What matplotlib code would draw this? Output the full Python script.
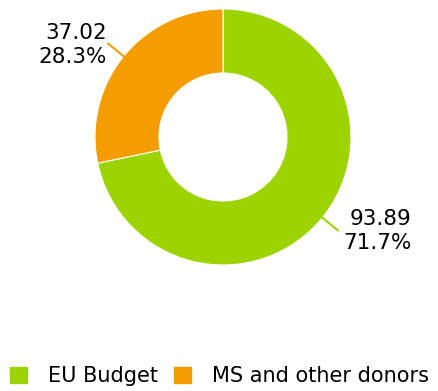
import matplotlib.pyplot as plt
import numpy as np
from matplotlib.patches import Patch

labels = ["EU Budget", "MS and other donors"]
values = [93.89, 37.02]
colors = ["#9dd300", "#f59c00"]

fig = plt.figure(figsize=(4.39, 3.91), dpi=100)
ax = fig.add_axes([0, 0, 1, 1])

cx, cy, r = 223, 254, 128
wedges, _ = ax.pie(values, colors=colors, startangle=90, counterclock=False,
                   center=(cx, cy), radius=r,
                   wedgeprops=dict(width=r * 0.5, edgecolor="white", linewidth=0.8))
ax.set_xlim(0, 439)
ax.set_ylim(0, 391)
ax.set_aspect("equal")
ax.axis("off")

total = sum(values)
for w, v, c in zip(wedges, values, colors):
    ang = np.deg2rad((w.theta1 + w.theta2) / 2)
    dx, dy = np.cos(ang), np.sin(ang)
    x0, y0 = cx + r * dx, cy + r * dy
    x1, y1 = cx + (r + 20) * dx, cy + (r + 20) * dy
    ax.plot([x0, x1], [y0, y1], color=c, lw=1.5)
    ha = "left" if dx > 0 else "right"
    tx = x1 + (5 if dx > 0 else -1)
    ax.text(tx, y1 - 1, "%.2f\n%.1f%%" % (v, v / total * 100), ha=ha, va="center",
            multialignment="right", fontsize=15.5, linespacing=1.24)

handles = [Patch(color=c) for c in colors]
fig.legend(handles, labels, loc="lower center", ncol=2, frameon=False,
           fontsize=15, handlelength=0.8, handleheight=0.8, handletextpad=1.0,
           columnspacing=0.8, bbox_to_anchor=(0.5, -0.035))

fig.savefig("out.png", dpi=100)
